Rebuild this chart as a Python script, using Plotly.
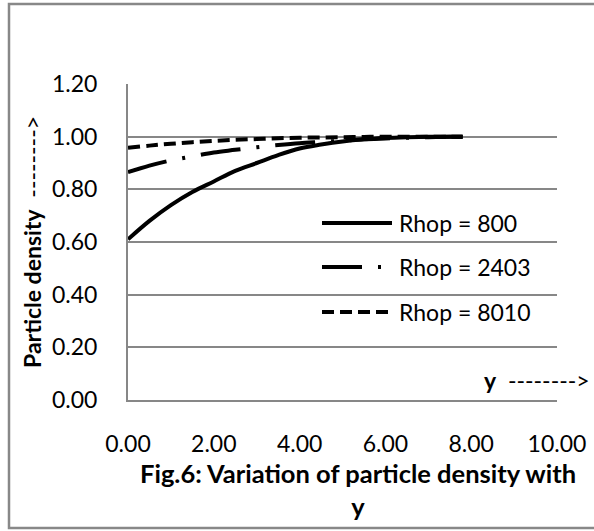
import plotly.graph_objects as go

# ---- data ----
y_pos = [0, 0.5, 1, 1.5, 2, 2.5, 3, 3.5, 4, 4.5, 5, 5.5, 6, 6.5, 7, 7.5, 7.8]
rhop_800 = [0.61, 0.68, 0.74, 0.79, 0.83, 0.87, 0.90, 0.93, 0.955, 0.97, 0.982, 0.99, 0.995, 0.998, 1.0, 1.0, 1.0]
rhop_2403 = [0.865, 0.89, 0.91, 0.925, 0.94, 0.95, 0.96, 0.968, 0.975, 0.98, 0.985, 0.99, 0.993, 0.996, 0.998, 1.0, 1.0]
rhop_8010 = [0.958, 0.966, 0.973, 0.979, 0.984, 0.988, 0.991, 0.994, 0.996, 0.997, 0.998, 0.999, 1.0, 1.0, 1.0, 1.0, 1.0]
series_names = ["Rhop = 800", "Rhop = 2403", "Rhop = 8010"]
x_ticks = [0, 2, 4, 6, 8, 10]
y_ticks = [0, 0.2, 0.4, 0.6, 0.8, 1.0, 1.2]

W, H = 594, 531
L, R, T, B = 128, 37, 84, 131
PW, PH = W - L - R, H - T - B

def px(x):
    return (x - L) / PW

def py(y):
    return (H - B - y) / PH

FONT = "Lato, Carlito, Calibri, sans-serif"
FS = 23
GRID = "#878787"

styles = [
    dict(color="black", width=4, dash="solid"),
    dict(color="black", width=4, dash="40px,16px,3px,16px"),
    dict(color="black", width=4, dash="12px,6px"),
]

fig = go.Figure()
for name, vals, st in zip(series_names, [rhop_800, rhop_2403, rhop_8010], styles):
    fig.add_trace(go.Scatter(x=y_pos, y=vals, mode="lines", name=name,
                             line=dict(shape="spline", **st), showlegend=False))

shapes = []
annotations = []
# manual legend
leg_rows = [223, 267, 312]
for name, st, row in zip(series_names, styles, leg_rows):
    shapes.append(dict(type="line", xref="paper", yref="paper",
                       x0=px(322), x1=px(392), y0=py(row), y1=py(row),
                       line=st))
    annotations.append(dict(text=name, xref="paper", yref="paper",
                            x=px(397), y=py(row), xanchor="left", yanchor="middle",
                            showarrow=False, font=dict(family=FONT, size=FS, color="black")))

# outer chart border
shapes.append(dict(type="rect", xref="paper", yref="paper",
                   x0=px(9), x1=px(610), y0=py(528), y1=py(4),
                   line=dict(color="#888888", width=2.5), layer="below"))

# axis titles
annotations.append(dict(text="<b>Fig.6: Variation of particle density with</b><br><b>y</b>",
                        xref="paper", yref="paper", x=px(358), y=py(489),
                        xanchor="center", yanchor="middle", showarrow=False,
                        font=dict(family=FONT, size=25.5, color="black")))
annotations.append(dict(text="<b>Particle density</b>  -------->",
                        xref="paper", yref="paper", x=px(32), y=py(242),
                        xanchor="center", yanchor="middle", textangle=-90, showarrow=False,
                        font=dict(family=FONT, size=FS, color="black")))
annotations.append(dict(text="<b>y</b>  -------->",
                        xref="paper", yref="paper", x=px(482), y=py(380),
                        xanchor="left", yanchor="middle", showarrow=False,
                        font=dict(family=FONT, size=FS, color="black")))

fig.update_layout(
    width=W, height=H,
    margin=dict(l=L, r=R, t=T, b=B, autoexpand=False),
    paper_bgcolor="white", plot_bgcolor="white",
    font=dict(family=FONT, size=FS, color="black"),
    shapes=shapes, annotations=annotations,
    xaxis=dict(range=[0, 10], tickvals=x_ticks, tickformat=".2f", showgrid=False,
               zeroline=False, showline=True, linecolor=GRID, linewidth=2,
               ticks="", ticklabelstandoff=22),
    yaxis=dict(range=[0, 1.2], tickvals=y_ticks, tickformat=".2f", showgrid=True,
               gridcolor=GRID, gridwidth=2, zeroline=False, showline=True,
               linecolor=GRID, linewidth=2, ticks="outside", ticklen=24,
               tickcolor="rgba(0,0,0,0)"),
)

fig.write_html("out.html")
